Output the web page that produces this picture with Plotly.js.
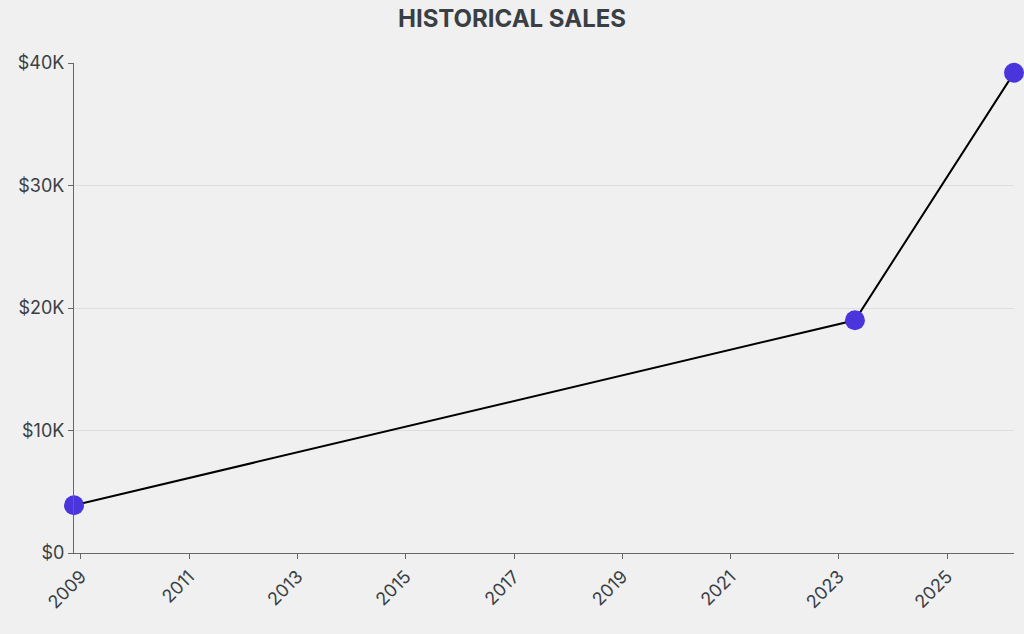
<!DOCTYPE html>
<html>
<head>
<meta charset="utf-8">
<script src="https://cdn.plot.ly/plotly-3.0.1.min.js"></script>
<style>html,body{margin:0;padding:0;background:#f0f0f0;}#chart{width:1024px;height:634px;}</style>
</head>
<body>
<div id="chart"></div>
<script>
const dates = ["2008-11-15", "2023-04-20", "2026-03-28"];
const sales = [3900, 19000, 39200];
const yTickVals = [0, 10000, 20000, 30000, 40000];
const yTickText = ["$0", "$10K", "$20K", "$30K", "$40K"];
const xRange = ["2008-11-15", "2026-03-28"];

const trace = {
  x: dates,
  y: sales,
  type: "scatter",
  mode: "lines+markers",
  cliponaxis: false,
  line: {color: "#000000", width: 2},
  marker: {color: "#4a35dc", size: 20},
  hoverinfo: "x+y"
};

const layout = {
  width: 1024,
  height: 634,
  paper_bgcolor: "#f0f0f0",
  plot_bgcolor: "#f0f0f0",
  font: {family: "Inter, 'Noto Sans', sans-serif", size: 18, color: "#3a3f44"},
  title: {text: "<b>HISTORICAL SALES</b>", x: 0.5, xanchor: "center", y: 0.971, yanchor: "middle",
          font: {family: "Inter, sans-serif", size: 24, color: "#3a3f44"}},
  margin: {l: 74, r: 10, t: 63, b: 81},
  showlegend: false,
  xaxis: {
    type: "date",
    range: xRange,
    tick0: "2009-01-01",
    dtick: "M24",
    tickformat: "%Y",
    tickangle: -45,
    ticks: "outside",
    ticklen: 5,
    tickcolor: "#666",
    showline: true,
    linecolor: "#666",
    linewidth: 1,
    showgrid: false,
    zeroline: false,
    tickfont: {size: 18, color: "#3a3f44"}
  },
  yaxis: {
    range: [0, 40000],
    tickvals: yTickVals,
    ticktext: yTickText,
    ticks: "outside",
    ticklen: 5,
    tickcolor: "#666",
    showline: true,
    linecolor: "#666",
    linewidth: 1,
    showgrid: true,
    gridcolor: "#dedede",
    zeroline: false,
    tickfont: {size: 18, color: "#3a3f44"}
  }
};

Plotly.newPlot("chart", [trace], layout, {displayModeBar: false, staticPlot: true});
</script>
</body>
</html>
